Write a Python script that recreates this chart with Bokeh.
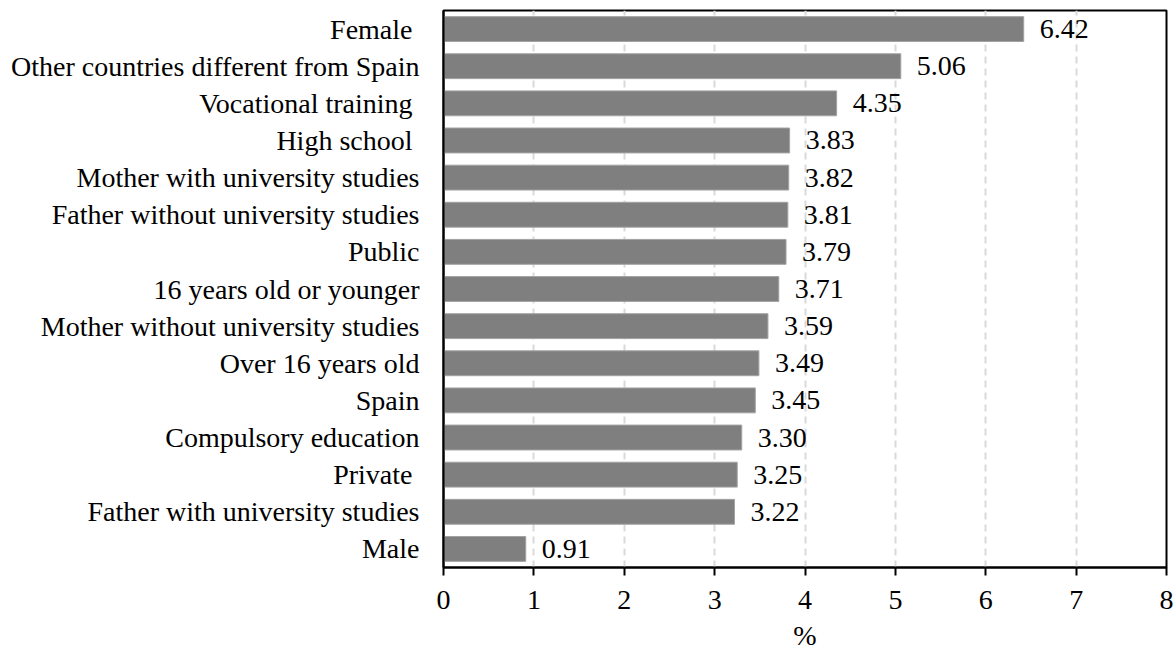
from bokeh.plotting import figure
from bokeh.models import FactorRange, Range1d, ColumnDataSource, FixedTicker, LabelSet
from bokeh.embed import file_html
from bokeh.resources import INLINE

# Categories listed top to bottom (non-breaking spaces keep the trailing gap)
categories = [
    "Female\u00a0",
    "Other countries different from Spain",
    "Vocational training\u00a0",
    "High school\u00a0",
    "Mother with university studies",
    "Father without university studies",
    "Public",
    "16 years old or younger",
    "Mother without university studies",
    "Over 16 years old",
    "Spain",
    "Compulsory education",
    "Private\u00a0",
    "Father with university studies",
    "Male",
]
percentages = [6.42, 5.06, 4.35, 3.83, 3.82, 3.81, 3.79, 3.71, 3.59, 3.49,
               3.45, 3.30, 3.25, 3.22, 0.91]
x_ticks = [0, 1, 2, 3, 4, 5, 6, 7, 8]

FONT = "Liberation Serif"
SIZE = "28px"

source = ColumnDataSource(dict(
    cat=categories,
    pct=percentages,
    label=[f"{v:.2f}" for v in percentages],
))

p = figure(
    y_range=FactorRange(factors=list(reversed(categories))),
    x_range=Range1d(0, 8),
    frame_width=723, frame_height=557,
    min_border_left=443, min_border_right=10,
    min_border_top=10, min_border_bottom=82,
    output_backend="svg", toolbar_location=None,
)

p.hbar(y="cat", left=0, right="pct", height=0.67, source=source,
       fill_color="#7f7f7f", line_color="#a3a3a3", line_width=1)

labels = LabelSet(x="pct", y="cat", text="label", source=source,
                  x_offset=16, text_baseline="middle", text_align="left",
                  text_font=FONT, text_font_size=SIZE, text_color="black")
p.add_layout(labels)

# Frame
p.outline_line_color = "black"
p.outline_line_width = 2
p.background_fill_color = "white"
p.border_fill_color = "white"

# Grid: dashed vertical lines only
p.ygrid.grid_line_color = None
p.xgrid.grid_line_color = "#d9d9d9"
p.xgrid.grid_line_width = 2
p.xgrid.grid_line_dash = "7 5"

# X axis
p.xaxis.ticker = FixedTicker(ticks=x_ticks)
p.xaxis.axis_line_color = "black"
p.xaxis.axis_line_width = 2
p.xaxis.major_tick_line_color = "black"
p.xaxis.major_tick_line_width = 2
p.xaxis.major_tick_out = 8
p.xaxis.major_tick_in = 0
p.xaxis.minor_tick_line_color = None
p.xaxis.major_label_text_font = FONT
p.xaxis.major_label_text_font_size = SIZE
p.xaxis.major_label_text_color = "black"
p.xaxis.major_label_standoff = 15
p.xaxis.axis_label = "%"
p.xaxis.axis_label_text_font = FONT
p.xaxis.axis_label_text_font_size = SIZE
p.xaxis.axis_label_text_font_style = "normal"
p.xaxis.axis_label_text_color = "black"
p.xaxis.axis_label_standoff = 8

# Y axis
p.yaxis.axis_line_color = "black"
p.yaxis.axis_line_width = 2
p.yaxis.major_tick_line_color = None
p.yaxis.minor_tick_line_color = None
p.yaxis.major_label_text_font = FONT
p.yaxis.major_label_text_font_size = SIZE
p.yaxis.major_label_text_color = "black"
p.yaxis.major_label_standoff = 18

open("out.html", "w").write(file_html(p, INLINE))
